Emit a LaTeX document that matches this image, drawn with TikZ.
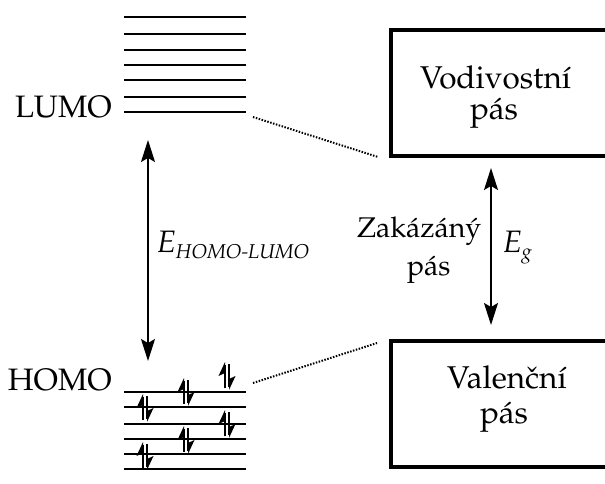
\documentclass[tikz,border=0pt]{standalone}
\usepackage[T1]{fontenc}
\usepackage{mathpazo}
\usetikzlibrary{arrows.meta}
\newcommand\labfont{\fontsize{31}{33}\selectfont}
\newcommand\boxfont{\fontsize{31.5}{33}\selectfont}
\newcommand\gapfont{\fontsize{28.5}{30}\selectfont}
\newcommand\subfont{\fontsize{20}{22}\selectfont}
\tikzset{
  level/.style={line width=2pt},
  bandbox/.style={draw, line width=4.5pt, outer sep=0pt, inner sep=0pt, anchor=north west, minimum width=230pt, minimum height=126pt},
  lab/.style={inner sep=0pt, outer sep=0pt, anchor=base west, font=\labfont},
  gaparrow/.style={line width=1.5pt, {Stealth[length=22pt,width=14pt,inset=4pt]}-{Stealth[length=22pt,width=14pt,inset=4pt]}},
  corr/.style={line width=2pt, dash pattern=on 1.5pt off 1.5pt},
  epair/.pic={
    \draw[line width=2pt] (-2,12) -- (-2,-11);
    \fill (-2,-14) -- (-8.5,0) -- (-2,-3) -- cycle;
    \draw[line width=2pt] (2,-12) -- (2,11);
    \fill (2,14) -- (8.5,0) -- (2,3) -- cycle;
  }
}
\begin{document}
\begin{tikzpicture}[x=1pt,y=-1pt]
\useasboundingbox (0,0) rectangle (605,484);
\clip (0,0) rectangle (605,484);
% LUMO levels
\foreach \yy in {17,34,50,65,80,97,112} \draw[level] (124,\yy) -- (246,\yy);
% HOMO levels
\foreach \yy in {392,407,424,439,454,469} \draw[level] (124,\yy) -- (246,\yy);
% electron pairs
\foreach \px/\py in {227/376,186/392,145/408,227/424,186/440,145/456}
  \pic at (\px,\py) {epair};
% labels
\node[inner sep=0pt, anchor=base east, font=\labfont] (lumo) at (112,118) {LUMO};
\node[inner sep=0pt, anchor=base east, font=\labfont] (homo) at (112,390) {HOMO};
% HOMO-LUMO gap arrow
\coordinate (hltop) at (148,140);
\coordinate (hlbot) at (148,361);
\draw[gaparrow] (hltop) -- (hlbot);
\node[lab] (ehl) at (157,252) {\itshape E\raisebox{-6pt}{\subfont HOMO-LUMO}};
% bands
\node[bandbox] (cb) at (391,30) {};
\node[bandbox] (vb) at (391,341) {};
\node[lab, font=\boxfont] (cbt1) at (420,89) {Vodivostn\'{\i}};
\node[lab, font=\boxfont] (cbt2) at (470,120) {p\'as};
\node[lab, font=\boxfont] (vbt1) at (447,388) {Valen\v{c}n\'{\i}};
\node[lab, font=\boxfont] (vbt2) at (480,423) {p\'as};
% band gap
\draw[gaparrow] ([shift={(100,12)}]cb.south west) -- ([shift={(100,-16)}]vb.north west);
\node[lab, font=\gapfont] (zp1) at (357,237) {Zak\'az\'an\'y};
\node[lab, font=\gapfont] (zp2) at (407,275) {p\'as};
\node[lab] (eg) at (503,252) {\itshape E\raisebox{-6pt}{\subfont g}};
% correlation lines
\coordinate (lumoend) at (253,117);
\coordinate (homoend) at (253,383);
\draw[corr] (lumoend) -- ([shift={(-13,1)}]cb.south west);
\draw[corr] (homoend) -- ([shift={(-14,2)}]vb.north west);
\end{tikzpicture}
\end{document}
